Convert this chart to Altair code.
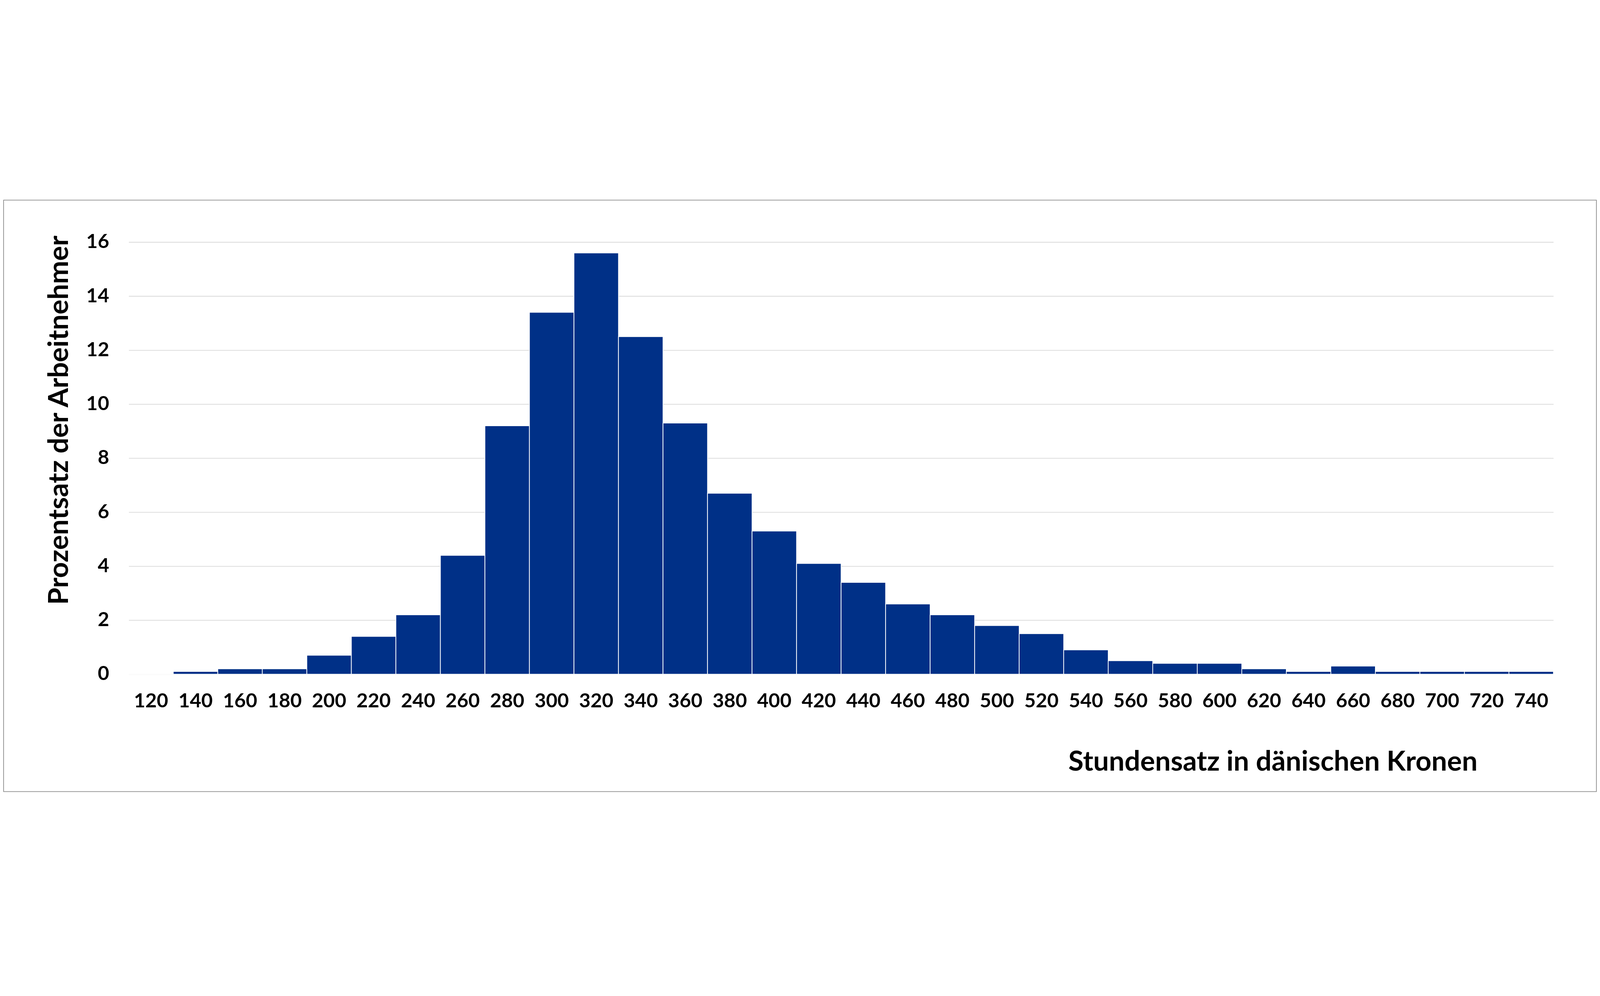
import altair as alt
import pandas as pd

# Stundensatz-Kategorien (dänische Kronen)
stundensatz = [120, 140, 160, 180, 200, 220, 240, 260, 280, 300, 320, 340, 360, 380, 400, 420,
               440, 460, 480, 500, 520, 540, 560, 580, 600, 620, 640, 660, 680, 700, 720, 740]
# Prozentsatz der Arbeitnehmer
prozent = [0.0, 0.1, 0.2, 0.2, 0.7, 1.4, 2.2, 4.4, 9.2, 13.4, 15.6, 12.5, 9.3, 6.7, 5.3, 4.1,
           3.4, 2.6, 2.2, 1.8, 1.5, 0.9, 0.5, 0.4, 0.4, 0.2, 0.1, 0.3, 0.1, 0.1, 0.1, 0.1]
y_ticks = [0, 2, 4, 6, 8, 10, 12, 14, 16]

df = pd.DataFrame({"lohn": stundensatz, "anteil": prozent})

FONT = "Lato"
BLUE = "#003087"
W, H = 6067, 1840

bars = alt.Chart(df).mark_bar(color=BLUE, stroke="white", strokeWidth=3).encode(
    x=alt.X(
        "lohn:O",
        sort=None,
        scale=alt.Scale(paddingInner=0, paddingOuter=0),
        axis=alt.Axis(
            title="Stundensatz in dänischen Kronen",
            labelAngle=0,
            labelPadding=74,
            grid=False,
            titleX=4872,
            titleY=411,
            titleAlign="center",
            titleBaseline="alphabetic",
        ),
    ),
    y=alt.Y(
        "anteil:Q",
        scale=alt.Scale(domain=[0, 16], nice=False),
        axis=alt.Axis(
            title="Prozentsatz der Arbeitnehmer",
            values=y_ticks,
            labelPadding=84,
            grid=True,
            gridColor="#d9d9d9",
            gridWidth=3,
            titleAngle=270,
            titleX=-260,
            titleY=758,
            titleAlign="center",
            titleBaseline="alphabetic",
        ),
    ),
)

frame = alt.Chart(pd.DataFrame({"f": [0]})).mark_rect(
    fillOpacity=0, stroke="#8c8c8c", strokeWidth=3
).encode(
    x=alt.value(-533),
    x2=alt.value(6250),
    y=alt.value(-179),
    y2=alt.value(2340),
)

chart = alt.layer(frame, bars).properties(
    width=W, height=H, padding=0, background="white"
).configure_view(strokeWidth=0).configure_axis(
    domain=False,
    ticks=False,
    labelFont=FONT,
    labelFontSize=84,
    labelFontWeight="bold",
    labelColor="#000000",
    titleFont=FONT,
    titleFontSize=118,
    titleFontWeight="bold",
    titleColor="#000000",
)

chart.save("out.html", embed_options={"renderer": "svg", "actions": False})
